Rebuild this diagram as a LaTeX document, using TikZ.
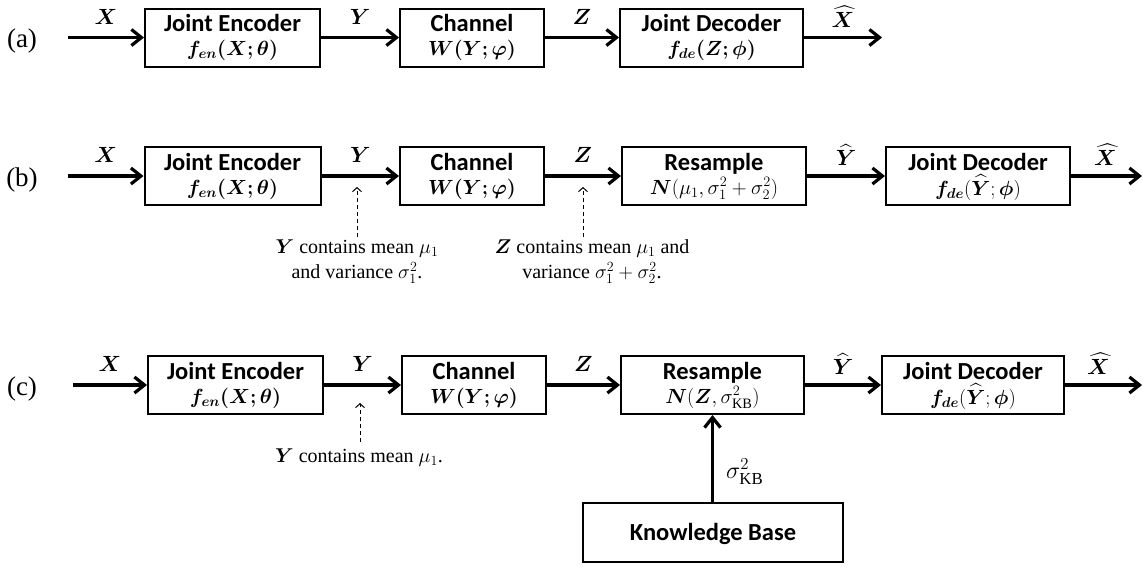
\RequirePackage{fix-cm}
\documentclass[tikz,border=0pt]{standalone}
\usepackage{amsmath}
\usepackage{bm}
\usepackage{fontspec}
\setmainfont{Liberation Serif}
\newfontfamily\boxfont{Carlito}
\usetikzlibrary{arrows.meta}
\newcommand\mkblock[7]{%
  \node[blk, minimum width=#4pt] (#1) at (#2,#3) {};
  \node[ttl] (#1t) at (#2,#3-6) {#5};
  \node[frm] (#1f) at (#2,#3+#7) {#6};
}
\begin{document}
\begin{tikzpicture}[x=1pt,y=-1pt,
  blk/.style={draw, line width=2pt, minimum height=58pt, inner sep=0pt},
  ttl/.style={anchor=base, inner sep=0pt, font=\boxfont\bfseries\fontsize{24.5}{28}\selectfont},
  frm/.style={anchor=base, inner sep=0pt, font=\fontsize{20.5}{24}\selectfont},
  flow/.style={line width=3.2pt, -{Straight Barb[length=10pt,width=16pt]}},
  lbl/.style={midway, yshift=21pt, inner sep=0pt, font=\fontsize{22}{26}\selectfont},
  note/.style={align=center, inner sep=2pt, font=\fontsize{20}{25}\selectfont},
  hint/.style={line width=1pt, dash pattern=on 4pt off 3pt, -{Straight Barb[length=4pt,width=9pt]}},
  tag/.style={inner sep=0pt, font=\fontsize{27}{30}\selectfont},
]
\useasboundingbox (0,0) rectangle (1143,566);

% ---------- row (a) ----------
\node[tag] (ta) at (22,41) {(a)};
\coordinate (ina) at (68,37.5);
\coordinate (outa) at (882,37.5);
\mkblock{aenc}{232.5}{37.5}{175}{Joint Encoder}{$\bm{f_{en}(X;\theta)}$}{18}
\mkblock{ach}{472}{37.5}{144}{Channel}{$\bm{W(Y;\varphi)}$}{18}
\mkblock{adec}{711.5}{37.5}{183}{Joint Decoder}{$\bm{f_{de}(Z;\phi)}$}{18}
\draw[flow] (ina) -- node[lbl]{$\bm{X}$} (aenc);
\draw[flow] (aenc) -- node[lbl]{$\bm{Y}$} (ach);
\draw[flow] (ach) -- node[lbl]{$\bm{Z}$} (adec);
\draw[flow] (adec) -- node[lbl]{$\widehat{\bm{X}}$} (outa);

% ---------- row (b) ----------
\node[tag] (tb) at (22,180) {(b)};
\coordinate (inb) at (68,176);
\coordinate (outb) at (1142,176);
\mkblock{benc}{232.5}{176}{176}{Joint Encoder}{$\bm{f_{en}(X;\theta)}$}{18}
\mkblock{bch}{472}{176}{144}{Channel}{$\bm{W(Y;\varphi)}$}{18}
\mkblock{bres}{714}{176}{184}{Resample}{$\bm{N}(\mu_1,\sigma_1^2+\sigma_2^2)$}{18}
\mkblock{bdec}{978}{176}{184}{Joint Decoder}{$\bm{f_{de}}(\widehat{\bm{Y}};\bm{\phi})$}{19}
\draw[flow] (inb) -- node[lbl]{$\bm{X}$} (benc);
\draw[flow] (benc) -- node[lbl]{$\bm{Y}$} (bch);
\draw[flow] (bch) -- node[lbl]{$\bm{Z}$} (bres);
\draw[flow] (bres) -- node[lbl]{$\widehat{\bm{Y}}$} (bdec);
\draw[flow] (bdec) -- node[lbl, xshift=-1pt]{$\widehat{\bm{X}}$} (outb);

\node[note] (nby) at (357,262) {$\bm{Y}$ contains mean $\mu_1$\\and variance $\sigma_1^2$.};
\node[note] (nbz) at (592,262) {$\bm{Z}$ contains mean $\mu_1$ and\\variance $\sigma_1^2+\sigma_2^2$.};
\coordinate (pby) at (357,187);
\coordinate (pbz) at (583,187);
\draw[hint] (nby.north) ++(0,-1) -- (pby);
\draw[hint] (nbz.north -| pbz) ++(0,-1) -- (pbz);

% ---------- row (c) ----------
\node[tag] (tc) at (22,389) {(c)};
\coordinate (inc) at (73,385);
\coordinate (outc) at (1142,385);
\mkblock{cenc}{235.5}{385}{175}{Joint Encoder}{$\bm{f_{en}(X;\theta)}$}{18}
\mkblock{cch}{474}{385}{144}{Channel}{$\bm{W(Y;\varphi)}$}{18}
\mkblock{cres}{712.5}{385}{183}{Resample}{$\bm{N}(\bm{Z},\sigma_{\mathrm{KB}}^2)$}{18}
\mkblock{cdec}{973}{385}{182}{Joint Decoder}{$\bm{f_{de}}(\widehat{\bm{Y}};\bm{\phi})$}{19}
\node[blk, minimum width=260pt, minimum height=59pt] (kb) at (713,532.5) {};
\node[ttl] (kbt) at (713,540) {Knowledge Base};
\draw[flow] (inc) -- node[lbl]{$\bm{X}$} (cenc);
\draw[flow] (cenc) -- node[lbl]{$\bm{Y}$} (cch);
\draw[flow] (cch) -- node[lbl]{$\bm{Z}$} (cres);
\draw[flow] (cres) -- node[lbl]{$\widehat{\bm{Y}}$} (cdec);
\draw[flow] (cdec) -- node[lbl, xshift=-5pt]{$\widehat{\bm{X}}$} (outc);
\draw[flow] (kb.north -| cres.south) -- node[pos=0.35, right=12pt, inner sep=0pt, font=\fontsize{24}{28}\selectfont]{$\sigma_{\mathrm{KB}}^2$} (cres.south);

\node[note] (ncy) at (359,458) {$\bm{Y}$ contains mean $\mu_1$.};
\coordinate (pcy) at (360,403);
\draw[hint] (ncy.north -| pcy) ++(0,-5) -- (pcy);
\end{tikzpicture}
\end{document}
